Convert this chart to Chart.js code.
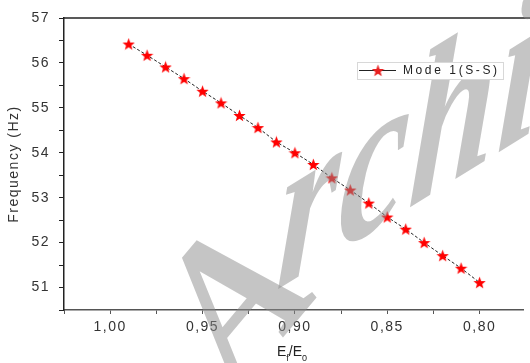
<!DOCTYPE html>
<html>
<head>
<meta charset="utf-8">
<script src="https://cdn.jsdelivr.net/npm/chart.js@4"></script>
<style>
html,body{margin:0;padding:0;background:#fff;}
#wrap{width:530px;height:363px;}
</style>
</head>
<body>
<div id="wrap"><canvas id="c" width="530" height="363"></canvas></div>
<script>
// ---- data ----
const ratios = [0.99,0.98,0.97,0.96,0.95,0.94,0.93,0.92,0.91,0.90,0.89,0.88,0.87,0.86,0.85,0.84,0.83,0.82,0.81,0.80];
const freqMode1 = [56.42,56.17,55.91,55.65,55.37,55.11,54.83,54.56,54.24,54.00,53.74,53.44,53.17,52.88,52.57,52.30,52.00,51.71,51.43,51.11];
const seriesLabel = 'Mode 1(S-S)';
const xTickValues = [1.025,1.00,0.975,0.95,0.925,0.90,0.875,0.85,0.825,0.80];
const xTickLabels = {'1.000':'1,00','0.950':'0,95','0.900':'0,90','0.850':'0,85','0.800':'0,80'};
const yTickValues = [50.5,51,51.5,52,52.5,53,53.5,54,54.5,55,55.5,56,56.5,57];
const yTitle = 'Frequency (Hz)';
const watermarkHead = 'A';
const watermarkTail = 'rchive';

function makeStar(size, color){
  const cv = document.createElement('canvas');
  cv.width = size; cv.height = size;
  const g = cv.getContext('2d');
  const cx = size/2, cy = size/2, ro = size/2, ri = size*0.21;
  g.beginPath();
  for(let i=0;i<10;i++){
    const r = i%2===0 ? ro : ri;
    const a = -Math.PI/2 + i*Math.PI/5;
    const px = cx + r*Math.cos(a), py = cy + r*Math.sin(a) + 0.6;
    if(i===0) g.moveTo(px,py); else g.lineTo(px,py);
  }
  g.closePath();
  g.fillStyle = color; g.fill();
  return cv;
}
const starImg = makeStar(13, '#ff0000');
const starSmall = makeStar(13, '#e82020');

const spacingPlugin = {
  id:'spacing',
  beforeUpdate(chart){ chart.ctx.letterSpacing = '1.5px'; },
  beforeDraw(chart){ chart.ctx.letterSpacing = '1.5px'; }
};

const decorPlugin = {
  id:'decor',
  afterDatasetsDraw(chart){
    const ctx = chart.ctx, a = chart.chartArea;
    ctx.save();
    ctx.strokeStyle = '#222'; ctx.lineWidth = 1.5;
    ctx.beginPath(); ctx.moveTo(a.left, a.top); ctx.lineTo(chart.width, a.top); ctx.stroke();
    ctx.fillStyle = '#222';
    ctx.letterSpacing = '0px';
    ctx.textBaseline = 'alphabetic'; ctx.textAlign = 'left';
    let x = 277, y = 356;
    ctx.font = '14px "Liberation Sans", Arial, sans-serif';
    ctx.fillText('E', x, y); x += ctx.measureText('E').width;
    ctx.font = '9px "Liberation Sans", Arial, sans-serif';
    ctx.fillText('f', x, y+5); x += ctx.measureText('f').width;
    ctx.font = '14px "Liberation Sans", Arial, sans-serif';
    ctx.fillText('/E', x, y); x += ctx.measureText('/E').width;
    ctx.font = '9px "Liberation Sans", Arial, sans-serif';
    ctx.fillText('0', x, y+5);
    ctx.restore();
    // watermark
    ctx.save();
    ctx.fillStyle = 'rgba(140,140,140,0.5)';
    ctx.translate(239, 390);
    ctx.rotate(-50*Math.PI/180);
    ctx.font = 'bold italic 195px "Liberation Serif", "DejaVu Serif", serif';
    ctx.fillText(watermarkHead, 0, 0);
    ctx.restore();
    ctx.save();
    ctx.fillStyle = 'rgba(140,140,140,0.5)';
    ctx.translate(170, 356);
    ctx.transform(1, -0.62, -0.08, 1.4, 0, 0);
    ctx.font = 'bold italic 155px "Liberation Serif", "DejaVu Serif", serif';
    const w = ctx.measureText(watermarkHead).width;
    ctx.fillText(watermarkTail, w, 0);
    ctx.restore();
  },
  afterDraw(chart){
    const ctx = chart.ctx;
    ctx.save();
    const bx = 357, by = 62, bw = 146, bh = 17;
    ctx.fillStyle = '#fff'; ctx.fillRect(bx, by, bw, bh);
    ctx.strokeStyle = '#d8d8d8'; ctx.lineWidth = 1;
    ctx.strokeRect(bx+0.5, by+0.5, bw, bh);
    const ly = by + 8.5;
    ctx.strokeStyle = '#222'; ctx.lineWidth = 1.2;
    ctx.beginPath(); ctx.moveTo(bx+2, ly); ctx.lineTo(bx+39, ly); ctx.stroke();
    ctx.drawImage(starSmall, bx+21-6.5, ly-6.5);
    ctx.fillStyle = '#222';
    ctx.letterSpacing = '2.6px';
    ctx.font = '12px "Liberation Sans", Arial, sans-serif';
    ctx.textBaseline = 'middle'; ctx.textAlign = 'left';
    ctx.fillText(seriesLabel, bx+46, ly+0.5);
    ctx.restore();
  }
};

new Chart(document.getElementById('c'), {
  type:'line',
  data:{
    datasets:[{
      label: seriesLabel,
      data: ratios.map((r,i)=>({x:r, y:freqMode1[i]})),
      borderColor:'#222',
      borderWidth:1,
      borderDash:[3,2],
      pointStyle: starImg,
      pointRadius:6,
      tension:0,
      fill:false
    }]
  },
  options:{
    responsive:false,
    animation:false,
    events:[],
    layout:{padding:{top:18, right:0, left:0, bottom:0}},
    plugins:{legend:{display:false}, tooltip:{enabled:false}},
    scales:{
      x:{
        type:'linear',
        reverse:true,
        min:0.7765, max:1.025,
        afterBuildTicks(s){ s.ticks = xTickValues.map(v=>({value:v})); },
        afterFit(s){ s.height = 53; },
        grid:{drawOnChartArea:false, drawTicks:true, tickLength:4, color:'#555', lineWidth:1},
        border:{display:true, color:'#555', width:1.5},
        ticks:{
          autoSkip:false, maxRotation:0, padding:5,
          color:'#333',
          font:{family:'"Liberation Sans", Arial, sans-serif', size:14},
          callback(v){ return xTickLabels[Number(v).toFixed(3)] || ''; }
        },
        title:{display:false}
      },
      y:{
        type:'linear',
        min:50.5, max:57,
        afterBuildTicks(s){ s.ticks = yTickValues.map(v=>({value:v})); },
        afterFit(s){ s.width = 64; },
        grid:{drawOnChartArea:false, drawTicks:true, tickLength:5, color:'#222', lineWidth:1},
        border:{display:true, color:'#222', width:1.5},
        ticks:{
          autoSkip:false, padding:9,
          color:'#333',
          font:{family:'"Liberation Sans", Arial, sans-serif', size:14},
          callback(v){ return Number.isInteger(v) ? String(v) : ''; }
        },
        title:{
          display:true, text:yTitle, color:'#333',
          font:{family:'"Liberation Sans", Arial, sans-serif', size:14},
          padding:{top:6, bottom:0}
        }
      }
    }
  },
  plugins:[spacingPlugin, decorPlugin]
});
</script>
</body>
</html>
